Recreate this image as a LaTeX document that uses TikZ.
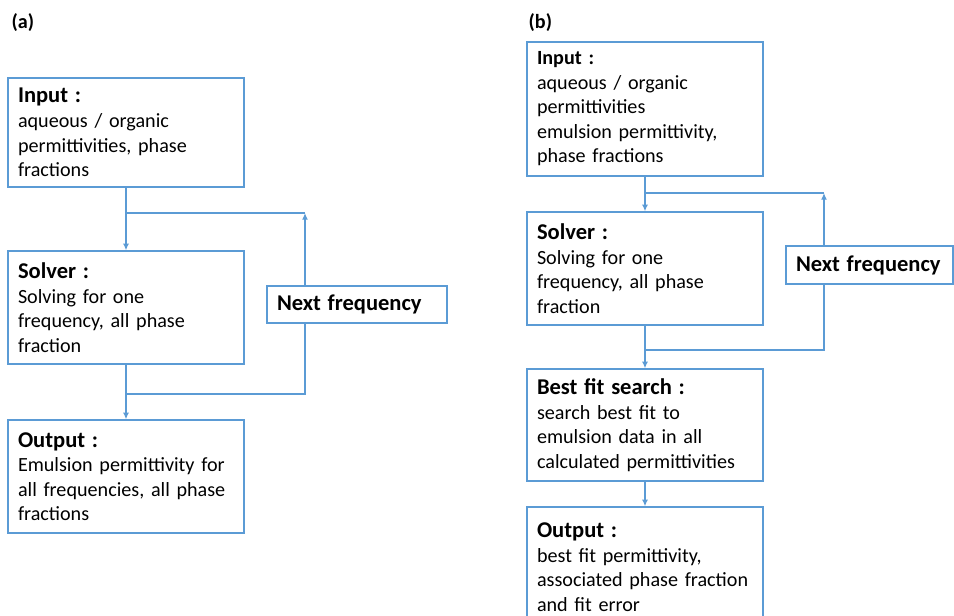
\documentclass[tikz,border=0pt]{standalone}
\usepackage{fontspec}
\setmainfont{Carlito}
\usetikzlibrary{arrows.meta}

\definecolor{flowblue}{RGB}{91,155,213}
\newcommand{\bodyfont}{\fontsize{15.1}{18.4}\selectfont\hyphenpenalty=10000}
\newcommand{\headbig}[1]{{\fontsize{16.9}{18.4}\selectfont\bfseries #1}}
\newcommand{\headsm}[1]{{\bfseries #1}}

\begin{document}
\begin{tikzpicture}[
                x=0.75pt, y=-0.75pt,
                >={Latex[length=5pt,width=4.5pt]},
                font=\bodyfont,
                box/.style={draw=flowblue, line width=1pt, rectangle, inner xsep=7.5pt, inner ysep=0pt, minimum width=177pt, text width=162pt, align=left},
                wire/.style={draw=flowblue, line width=1pt, ->},
                link/.style={draw=flowblue, line width=1pt}
            ]
                \useasboundingbox (0,0) rectangle (954,615);
                \clip (0,0) rectangle (954,615);
                % (a)
                \node[font=\bodyfont\bfseries, anchor=west] (labA) at (7,23) {(a)};
                \node[box, minimum height=81.75pt] (inA) at (126,132.5) {\headbig{Input :}\\aqueous / organic\\permittivities, phase\\fractions};
                \node[box, minimum height=84.75pt] (solA) at (126,307.5) {\headbig{Solver :}\\Solving for one\\frequency, all phase\\fraction};
                \node[box, minimum height=84.75pt] (outA) at (126,476.5) {\headbig{Output :}\\Emulsion permittivity for\\all frequencies, all phase\\fractions};
                \node[box, minimum width=135pt, text width=120pt, minimum height=27.75pt] (nxA) at (357,304.5) {\headbig{Next frequency}};
                \coordinate (topA) at (305,213);
                \coordinate (botA) at (305,394);
                \draw[wire] (inA.south) -- (solA.north);
                \draw[wire] (solA.south) -- (outA.north);
                \draw[wire] (nxA.north -| topA) -- (topA);
                \draw[link] (topA) -- (topA -| inA.south);
                \draw[link] (nxA.south -| botA) -- (botA) -- (botA -| solA.south);
                % (b)
                \node[font=\bodyfont\bfseries, anchor=west] (labB) at (524,23) {(b)};
                \node[box, minimum height=100.5pt] (inB) at (645,109) {\headsm{Input :}\\aqueous / organic\\permittivities\\emulsion permittivity,\\phase fractions};
                \node[box, minimum height=84.75pt] (solB) at (645,268.5) {\headbig{Solver :}\\Solving for one\\frequency, all phase\\fraction};
                \node[box, minimum height=84pt] (fitB) at (645,425) {\headbig{Best fit search :}\\search best fit to\\emulsion data in all\\calculated permittivities};
                \node[box, minimum height=90pt] (outB) at (645,567) {\headbig{Output :}\\best fit permittivity,\\associated phase fraction\\and fit error};
                \node[box, minimum width=125.25pt, text width=110.25pt, minimum height=28.5pt] (nxB) at (869.5,265) {\headbig{Next frequency}};
                \coordinate (topB) at (824,193);
                \coordinate (botB) at (824,350);
                \draw[wire] (inB.south) -- (solB.north);
                \draw[wire] (solB.south) -- (fitB.north);
                \draw[wire] (fitB.south) -- (outB.north);
                \draw[wire] (nxB.north -| topB) -- (topB);
                \draw[link] (topB) -- (topB -| inB.south);
                \draw[link] (nxB.south -| botB) -- (botB) -- (botB -| solB.south);
            \end{tikzpicture}
\end{document}
